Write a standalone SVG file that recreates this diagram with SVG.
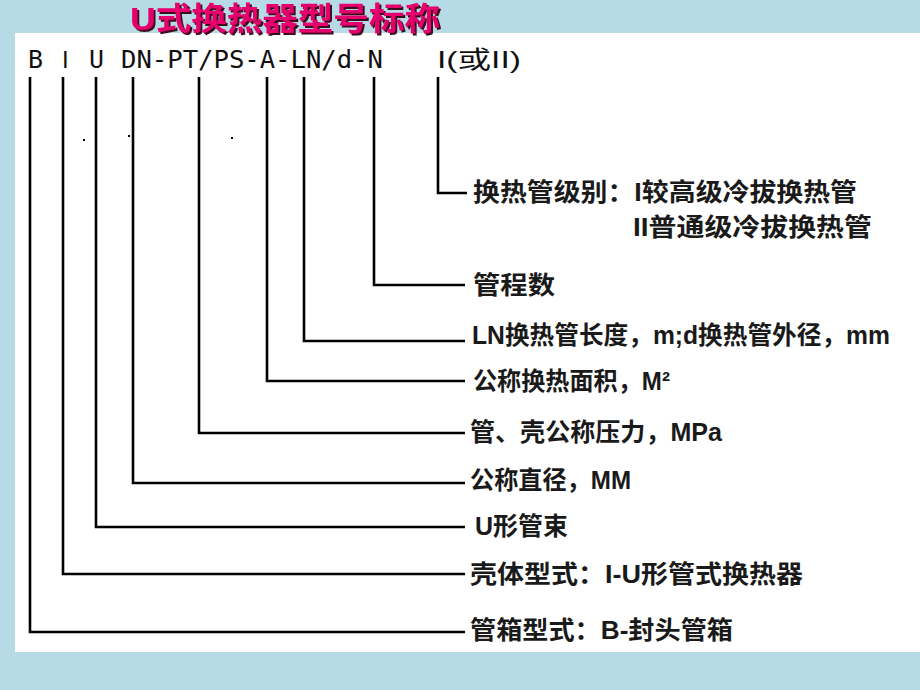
<svg xmlns="http://www.w3.org/2000/svg" width="920" height="690" viewBox="0 0 920 690">
  <defs>
    <filter id="shadow" x="-5%" y="-20%" width="110%" height="150%">
      <feOffset in="SourceAlpha" dx="2" dy="2" result="off"/>
      <feFlood flood-color="#3a0a1e"/>
      <feComposite in2="off" operator="in" result="sh"/>
      <feMerge>
        <feMergeNode in="sh"/>
        <feMergeNode in="SourceGraphic"/>
      </feMerge>
    </filter>
  </defs>
  <style>
    .bg { fill: #b6dbe6; }
    .panel { fill: #ffffff; }
    .title { font-family: "Liberation Sans", "Noto Sans CJK SC", sans-serif; font-weight: bold; font-size: 32px; fill: #e5006d; }
    .code { font-family: "DejaVu Sans Mono", "Liberation Mono", monospace; font-size: 25px; fill: #111; }
    .codes { font-family: "Liberation Sans", "Noto Sans CJK SC", sans-serif; font-size: 24px; fill: #111; }
    .lbl { font-family: "Liberation Sans", "Noto Sans CJK SC", sans-serif; font-weight: bold; font-size: 25px; fill: #1a1a1a; }
    .conn { fill: none; stroke: #000; stroke-width: 2.6; stroke-linejoin: miter; }
    .dot { fill: #000; }
  </style>

  <rect class="bg" x="0" y="0" width="920" height="690"/>
  <rect class="panel" x="15" y="33" width="905" height="619"/>

  <g id="title">
    <text class="title" x="130" y="30" filter="url(#shadow)" textLength="310" lengthAdjust="spacingAndGlyphs">U式换热器型号标称</text>
  </g>

  <g id="code">
    <text class="code" x="28" y="68" textLength="15" lengthAdjust="spacingAndGlyphs">B</text>
    <text class="codes" x="62" y="68">I</text>
    <text class="code" x="89" y="68" textLength="15" lengthAdjust="spacingAndGlyphs">U</text>
    <text class="code" x="121" y="68" textLength="262" lengthAdjust="spacingAndGlyphs">DN-PT/PS-A-LN/d-N</text>
    <text class="codes" x="437" y="68" textLength="84" lengthAdjust="spacingAndGlyphs">I(或II)</text>
  </g>

  <g id="connectors">
    <path class="conn" d="M30 77 V632 H465"/>
    <path class="conn" d="M63 77 V574 H465"/>
    <path class="conn" d="M96 77 V527 H465"/>
    <path class="conn" d="M133 77 V483 H465"/>
    <path class="conn" d="M199 77 V433 H465"/>
    <path class="conn" d="M267 77 V381 H465"/>
    <path class="conn" d="M304 77 V341 H465"/>
    <path class="conn" d="M374 77 V285 H465"/>
    <path class="conn" d="M438 77 V193 H467"/>
  </g>

  <g id="dots">
    <rect class="dot" x="83" y="139" width="2" height="2"/>
    <rect class="dot" x="128" y="135" width="2" height="2"/>
    <rect class="dot" x="231" y="137" width="2" height="2"/>
  </g>

  <g id="node-tube-grade">
    <text class="lbl" x="473" y="201" textLength="384" lengthAdjust="spacingAndGlyphs">换热管级别：I较高级冷拔换热管</text>
    <text class="lbl" x="633" y="236" textLength="239" lengthAdjust="spacingAndGlyphs">II普通级冷拔换热管</text>
  </g>
  <g id="node-passes">
    <text class="lbl" x="473" y="294" textLength="82" lengthAdjust="spacingAndGlyphs">管程数</text>
  </g>
  <g id="node-length">
    <text class="lbl" x="472" y="344" textLength="418" lengthAdjust="spacingAndGlyphs">LN换热管长度，m;d换热管外径，mm</text>
  </g>
  <g id="node-area">
    <text class="lbl" x="473" y="390" textLength="197" lengthAdjust="spacingAndGlyphs">公称换热面积，M²</text>
  </g>
  <g id="node-pressure">
    <text class="lbl" x="470" y="441" textLength="252" lengthAdjust="spacingAndGlyphs">管、壳公称压力，MPa</text>
  </g>
  <g id="node-diameter">
    <text class="lbl" x="470" y="489" textLength="161" lengthAdjust="spacingAndGlyphs">公称直径，MM</text>
  </g>
  <g id="node-bundle">
    <text class="lbl" x="475" y="535" textLength="93" lengthAdjust="spacingAndGlyphs">U形管束</text>
  </g>
  <g id="node-shell">
    <text class="lbl" x="470" y="583" textLength="333" lengthAdjust="spacingAndGlyphs">壳体型式：I-U形管式换热器</text>
  </g>
  <g id="node-channel">
    <text class="lbl" x="470" y="639" textLength="263" lengthAdjust="spacingAndGlyphs">管箱型式：B-封头管箱</text>
  </g>
</svg>
